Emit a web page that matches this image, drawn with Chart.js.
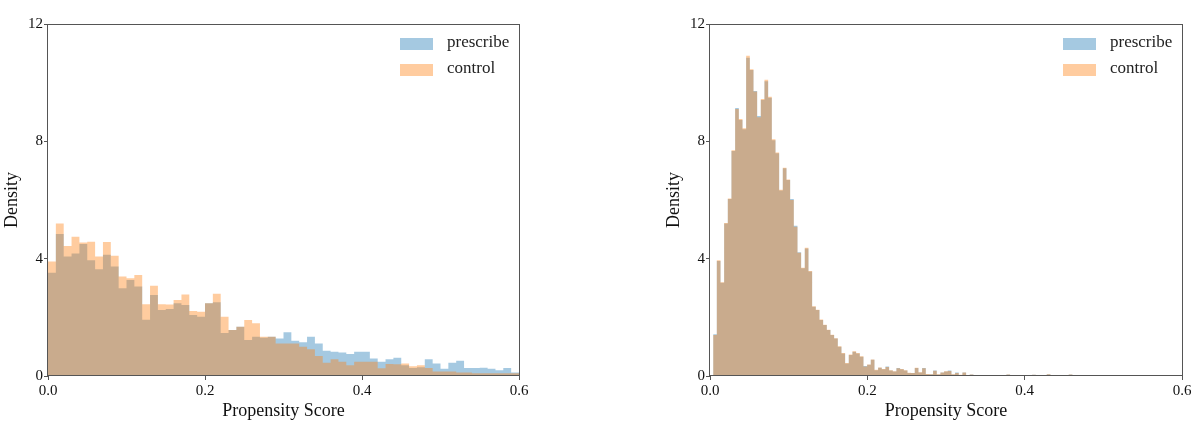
<!DOCTYPE html>
<html>
<head>
<meta charset="utf-8">
<script src="https://cdn.jsdelivr.net/npm/chart.js@4/dist/chart.umd.min.js"></script>
<style>
    html, body { margin: 0; padding: 0; background: #fff; }
    #wrap { position: relative; width: 1200px; height: 426px; overflow: hidden; }
    canvas { position: absolute; top: 0; }
    #leftChart { left: 0; }
    #rightChart { left: 600px; }
</style>
</head>
<body>
<div id="wrap">
    <canvas id="leftChart" width="600" height="426"></canvas>
    <canvas id="rightChart" width="600" height="426"></canvas>
</div>
<script>
// histogram bins: left panel
const leftBinStart = 0;
const leftBinWidth = 0.01;
const leftPrescribe = [3.52, 4.84, 4.07, 4.18, 4.50, 3.95, 3.64, 4.13, 3.73, 2.99,
    3.27, 3.05, 1.92, 2.76, 2.25, 2.28, 2.48, 2.42, 2.08, 2.02,
    2.48, 2.51, 1.47, 1.57, 1.68, 1.23, 1.34, 1.30, 1.34, 1.28,
    1.49, 1.20, 1.15, 1.34, 1.11, 0.86, 0.83, 0.80, 0.75, 0.83,
    0.83, 0.60, 0.49, 0.57, 0.62, 0.37, 0.27, 0.30, 0.57, 0.43,
    0.25, 0.45, 0.52, 0.27, 0.27, 0.28, 0.25, 0.20, 0.27, 0.12];
const leftControl = [3.90, 5.20, 4.43, 4.75, 4.55, 4.58, 4.07, 4.57, 4.10, 3.39,
    3.33, 3.44, 2.45, 3.08, 2.45, 2.44, 2.59, 2.78, 2.22, 2.19,
    2.48, 2.80, 2.02, 1.57, 1.68, 1.91, 1.80, 1.34, 1.34, 1.11,
    1.11, 1.11, 1.00, 0.91, 0.68, 0.45, 0.57, 0.49, 0.37, 0.49,
    0.49, 0.49, 0.26, 0.41, 0.40, 0.43, 0.33, 0.37, 0.27, 0.15,
    0.15, 0.15, 0.12, 0.12, 0.09, 0.09, 0.09, 0.09, 0.09, 0.09];

// histogram bins: right panel
const rightBinStart = 0.004;
const rightBinWidth = 0.00466;
const rightPrescribe = [1.42, 3.92, 3.18, 5.20, 6.03, 7.67, 9.14, 8.73, 8.41, 10.85,
    10.43, 9.72, 8.86, 9.41, 10.05, 9.49, 8.04, 7.59, 6.32, 7.08,
    6.68, 6.03, 5.12, 4.22, 3.67, 4.35, 3.56, 2.36, 2.25, 1.91,
    1.74, 1.57, 1.40, 1.28, 1.00, 0.77, 0.43, 0.72, 0.83, 0.77,
    0.66, 0.34, 0.38, 0.55, 0.20, 0.28, 0.23, 0.32, 0.19, 0.15,
    0.27, 0.23, 0.19, 0.10, 0.10, 0.27, 0.12, 0.27, 0.06, 0.06,
    0.19, 0.05, 0.12, 0.15, 0.19, 0.05, 0.12, 0.03, 0.12, 0.03,
    0.05, 0.02, 0, 0.02, 0, 0.02, 0, 0.02, 0, 0,
    0.05, 0, 0, 0, 0, 0, 0, 0.04, 0, 0,
    0, 0.06, 0, 0, 0, 0, 0, 0.05, 0, 0.03];
const rightControl = [1.40, 3.95, 3.20, 5.22, 6.05, 7.70, 9.10, 8.76, 8.45, 10.92,
    10.46, 9.70, 8.82, 9.44, 10.10, 9.52, 8.07, 7.62, 6.35, 7.10,
    6.70, 6.00, 5.09, 4.20, 3.69, 4.37, 3.58, 2.38, 2.26, 1.93,
    1.75, 1.58, 1.41, 1.29, 1.01, 0.78, 0.44, 0.73, 0.84, 0.78,
    0.67, 0.32, 0.39, 0.56, 0.21, 0.29, 0.24, 0.31, 0.20, 0.16,
    0.26, 0.24, 0.20, 0.11, 0.10, 0.28, 0.13, 0.26, 0.07, 0.06,
    0.18, 0.06, 0.12, 0.16, 0.17, 0.06, 0.10, 0.04, 0.12, 0.03,
    0.05, 0.02, 0, 0.02, 0, 0.02, 0, 0.02, 0, 0,
    0.05, 0, 0, 0, 0, 0, 0, 0.04, 0, 0,
    0, 0.06, 0, 0, 0, 0, 0, 0.05, 0, 0.03];

const xTickStep = 0.2;
const xRange = [0, 0.6];
const yTickStep = 4;
const yRange = [0, 12];
const seriesNames = ["prescribe", "control"];

const BLUE = "rgba(31, 119, 180, 0.4)";
const ORANGE = "rgba(255, 127, 14, 0.4)";
const SERIF = "'Liberation Serif', 'DejaVu Serif', serif";

// bin left edges as step points, plus the right edge of the last bin
function toSteps(values, start, width) {
    const pts = values.map((v, i) => ({ x: start + i * width, y: v }));
    pts.push({ x: start + values.length * width, y: values[values.length - 1] });
    return pts;
}

// frame box and legend drawn on top of the plot
const framePlugin = {
    id: "frame",
    afterDraw(chart) {
        const { ctx, chartArea: a } = chart;
        ctx.save();
        ctx.strokeStyle = "#555";
        ctx.lineWidth = 1;
        ctx.strokeRect(Math.round(a.left) - 0.5, Math.round(a.top) + 0.5,
            Math.round(a.right - a.left) + 1, Math.round(a.bottom - a.top) - 1);

        const colors = [BLUE, ORANGE];
        ctx.font = "17px " + SERIF;
        ctx.textBaseline = "middle";
        seriesNames.forEach((name, i) => {
            const y = a.top + 14 + i * 26;
            ctx.fillStyle = colors[i];
            ctx.fillRect(a.right - 119, y, 33, 12);
            ctx.fillStyle = "#222";
            ctx.fillText(name, a.right - 72, y + 5);
        });
        ctx.restore();
    }
};

function makeChart(id, prescribe, control, start, width, padLeft, padRight) {
    const ctx = document.getElementById(id).getContext("2d");
    const histStyle = {
        stepped: true,
        fill: "origin",
        borderWidth: 0,
        borderColor: "transparent",
        pointRadius: 0,
        pointHoverRadius: 0
    };
    return new Chart(ctx, {
        type: "line",
        data: {
            datasets: [Object.assign({
                label: seriesNames[0],
                data: toSteps(prescribe, start, width),
                backgroundColor: BLUE,
                order: 1          // drawn first, under the control histogram
            }, histStyle), Object.assign({
                label: seriesNames[1],
                data: toSteps(control, start, width),
                backgroundColor: ORANGE,
                order: 0
            }, histStyle)]
        },
        options: {
            responsive: false,
            animation: false,
            layout: { padding: { left: padLeft, right: padRight, top: 24, bottom: 0 } },
            plugins: {
                legend: { display: false },
                tooltip: { enabled: false }
            },
            scales: {
                x: {
                    type: "linear",
                    min: xRange[0],
                    max: xRange[1],
                    afterFit: scale => { scale.height = 50; },
                    border: { display: false },
                    grid: { drawOnChartArea: false, drawTicks: true, tickLength: 4, color: "#555", offset: false },
                    ticks: {
                        stepSize: xTickStep,
                        autoSkip: false,
                        padding: 2,
                        color: "#111",
                        font: { family: SERIF, size: 15 },
                        callback: v => v.toFixed(1),
                        maxRotation: 0
                    },
                    title: {
                        display: true,
                        text: "Propensity Score",
                        color: "#111",
                        font: { family: SERIF, size: 18 },
                        padding: { top: 4, bottom: 4 }
                    }
                },
                y: {
                    min: yRange[0],
                    max: yRange[1],
                    afterFit: scale => { scale.width = 48; },
                    border: { display: false },
                    grid: { drawOnChartArea: false, drawTicks: true, tickLength: 4, color: "#555" },
                    ticks: {
                        stepSize: yTickStep,
                        padding: 1,
                        color: "#111",
                        font: { family: SERIF, size: 15 }
                    },
                    title: {
                        display: true,
                        text: "Density",
                        color: "#111",
                        font: { family: SERIF, size: 18 },
                        padding: { top: 1, bottom: 0 }
                    }
                }
            }
        },
        plugins: [framePlugin]
    });
}

makeChart("leftChart", leftPrescribe, leftControl, leftBinStart, leftBinWidth, 0, 81);
makeChart("rightChart", rightPrescribe, rightControl, rightBinStart, rightBinWidth, 62, 18);
</script>
</body>
</html>
